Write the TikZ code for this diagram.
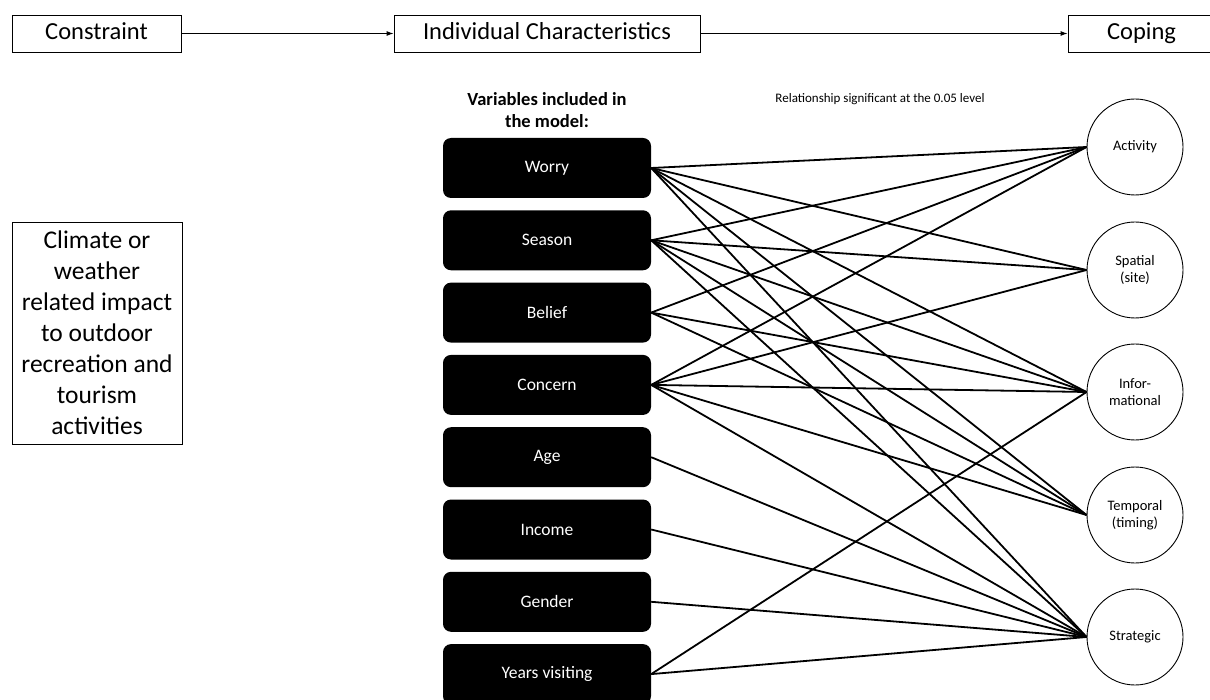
\documentclass[tikz,border=0pt]{standalone}
\usepackage{fontspec}
\setmainfont{Carlito}
\usetikzlibrary{arrows.meta}
\begin{document}
\begin{tikzpicture}[x=1pt,y=-1pt,
 topbox/.style={draw, line width=0.9pt, minimum height=37pt, inner sep=0pt, text height=17pt, text depth=5pt, font=\fontsize{24.5}{28}\selectfont},
 vbox/.style={fill=black, text=white, rounded corners=8pt, minimum width=208pt, minimum height=60pt, inner sep=0pt, font=\fontsize{17.5}{20}\selectfont},
 cope/.style={circle, draw, line width=0.9pt, minimum size=96pt, inner sep=0pt, align=center, font=\fontsize{14.5}{17}\selectfont},
 link/.style={line width=1.8pt},
 flow/.style={line width=0.9pt, -{Latex[length=7pt,width=5pt]}}]
\useasboundingbox (0,0) rectangle (1210,700);
\clip (0,0) rectangle (1210,700);
\fill[white] (0,0) rectangle (1210,700);

% top row
\node[topbox, minimum width=169pt] (constraint) at (96.5,33.5) {Constraint};
\node[topbox, minimum width=306pt] (indiv) at (547,33.5) {Individual Characteristics};
\node[topbox, minimum width=147pt] (coping) at (1141.5,33.5) {Coping};
\draw[flow] (constraint) -- (indiv);
\draw[flow] (indiv) -- (coping);

% left box
\node[draw, line width=0.9pt, minimum width=170pt, minimum height=222pt, inner sep=0pt, align=center,
      font=\fontsize{25.5}{31}\selectfont] (impact) at (97,333)
  {Climate or\\weather\\related impact\\to outdoor\\recreation and\\tourism\\activities};

% headings
\node[align=center, font=\bfseries\fontsize{18.5}{22}\selectfont] (varhead) at (547,110)
  {Variables included in\\the model:};
\node[font=\fontsize{13}{15}\selectfont] (sig) at (880,99) {Relationship significant at the 0.05 level};

% variables
\node[vbox] (worry)   at (547,168) {Worry};
\node[vbox] (season)  at (547,240.3) {Season};
\node[vbox] (belief)  at (547,312.6) {Belief};
\node[vbox] (concern) at (547,384.9) {Concern};
\node[vbox] (age)     at (547,457.2) {Age};
\node[vbox] (income)  at (547,529.5) {Income};
\node[vbox] (gender)  at (547,601.8) {Gender};
\node[vbox] (years)   at (547,674.1) {Years visiting};

% coping types
\node[cope] (act)  at (1135,147) {Activity};
\node[cope] (spa)  at (1135,270) {Spatial\\(site)};
\node[cope] (inf)  at (1135,392) {Infor-\\mational};
\node[cope] (tem)  at (1135,515) {Temporal\\(timing)};
\node[cope] (str)  at (1135,637) {Strategic};

% significant relationships
\foreach \v in {worry,season,belief,concern}{\draw[link] (\v.east) -- (act.west);}
\foreach \v in {worry,season,concern}{\draw[link] (\v.east) -- (spa.west);}
\foreach \v in {worry,season,belief,concern,years}{\draw[link] (\v.east) -- (inf.west);}
\foreach \v in {worry,season,belief,concern}{\draw[link] (\v.east) -- (tem.west);}
\foreach \v in {worry,season,concern,age,income,gender,years}{\draw[link] (\v.east) -- (str.west);}
\end{tikzpicture}
\end{document}
